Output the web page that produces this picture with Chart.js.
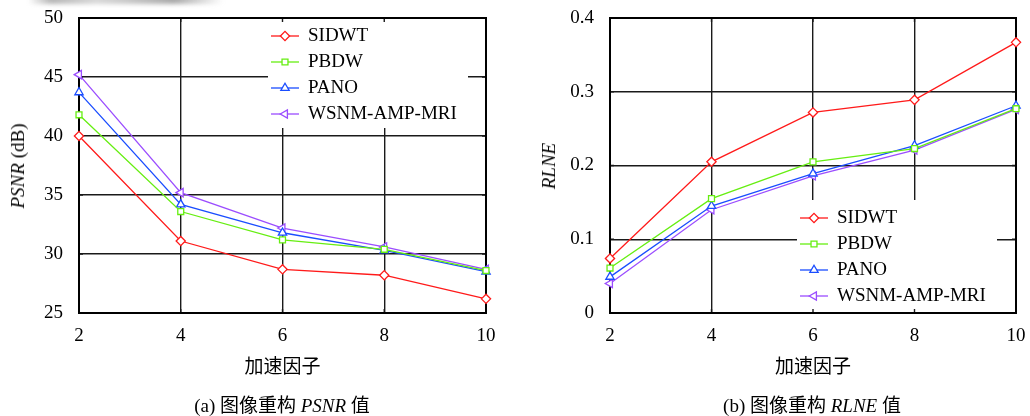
<!DOCTYPE html>
<html>
<head>
<meta charset="utf-8">
<script src="https://cdn.jsdelivr.net/npm/chart.js@4/dist/chart.umd.min.js"></script>
<style>
  body { margin: 0; background: #fff; }
  #wrap { position: relative; width: 1030px; height: 416px; overflow: hidden; background: #fff; }
  canvas { position: absolute; top: 0; }
  .txt { position: absolute; font-family: "Liberation Serif", "Noto Sans CJK SC", serif; font-size: 19px; color: #000; white-space: nowrap; }
  .ytitle { transform: translate(-50%, -50%) rotate(-90deg); }
  .caption { transform: translate(-50%, -50%); }
  .smudge { position: absolute; left: 28px; top: -5px; width: 195px; height: 9px; filter: blur(2px);
            background: linear-gradient(to right, rgba(150,150,150,0), #b5b5b5 12%, #d8d8d8 35%, #c9c9c9 50%, #a8a8a8 75%, rgba(170,170,170,0)); }
</style>
</head>
<body>
<div id="wrap">
  <div class="smudge"></div>
  <canvas id="psnr-chart" width="515" height="416" style="left:0"></canvas>
  <canvas id="rlne-chart" width="515" height="416" style="left:515px"></canvas>
  <div class="txt ytitle" style="left:18px; top:166px"><i>PSNR</i> (dB)</div>
  <div class="txt ytitle" style="left:549px; top:166px"><i>RLNE</i></div>
  <div class="txt caption" style="left:282px; top:403px">(a) 图像重构 <i>PSNR</i> 值</div>
  <div class="txt caption" style="left:812px; top:403px">(b) 图像重构 <i>RLNE</i> 值</div>
</div>
<script>
// acceleration factors on the x axis
var factors = ['2', '4', '6', '8', '10'];
var methods = ['SIDWT', 'PBDW', 'PANO', 'WSNM-AMP-MRI'];

// PSNR (dB)
var psnrSIDWT = [40.0, 31.1, 28.7, 28.2, 26.2];
var psnrPBDW  = [41.8, 33.6, 31.2, 30.4, 28.6];
var psnrPANO  = [43.7, 34.2, 31.8, 30.3, 28.5];
var psnrWSNM  = [45.2, 35.2, 32.2, 30.6, 28.7];

// RLNE
var rlneSIDWT = [0.074, 0.205, 0.272, 0.289, 0.367];
var rlnePBDW  = [0.061, 0.155, 0.205, 0.223, 0.277];
var rlnePANO  = [0.049, 0.145, 0.189, 0.227, 0.281];
var rlneWSNM  = [0.040, 0.140, 0.186, 0.221, 0.276];

var psnrTicks = { min: 25, max: 50, step: 5 };
var rlneTicks = { min: 0, max: 0.4, step: 0.1 };

var styles = [
    { color: '#ff1a1a', pointStyle: 'rectRot', rotation: 0, radius: 4.6 },
    { color: '#66ee11', pointStyle: 'rect', rotation: 0, radius: 4.2 },
    { color: '#1a4dff', pointStyle: 'triangle', rotation: 0, radius: 4.8 },
    { color: '#9b4dff', pointStyle: 'triangle', rotation: -90, radius: 4.8 }
];

Chart.defaults.font.family = '"Liberation Serif", "Noto Sans CJK SC", serif';
Chart.defaults.color = '#000';

function makeDatasets(series) {
    return series.map(function (values, i) {
        var s = styles[i];
        return {
            label: methods[i],
            data: values,
            borderColor: s.color,
            borderWidth: 1.3,
            pointStyle: s.pointStyle,
            pointRotation: s.rotation,
            pointRadius: s.radius,
            pointBorderWidth: 1.3,
            pointBorderColor: s.color,
            pointBackgroundColor: '#fff',
            tension: 0,
            clip: false
        };
    });
}

// white legend box inside the plot, plus the frame and inner tick marks
var boxLegend = {
    id: 'boxLegend',
    beforeDatasetsDraw: function (chart, args, opts) {
        var ctx = chart.ctx, a = chart.chartArea;
        var xs = chart.scales.x, ys = chart.scales.y;
        var b = opts.box;
        ctx.save();
        ctx.fillStyle = '#fff';
        ctx.fillRect(b.left, b.top, b.right - b.left, b.bottom - b.top);

        ctx.strokeStyle = '#1a1a1a';
        ctx.lineWidth = 1.4;
        ctx.beginPath();
        xs.ticks.forEach(function (t, i) {
            var px = xs.getPixelForTick(i);
            ctx.moveTo(px, a.top); ctx.lineTo(px, a.top + 4);
            ctx.moveTo(px, a.bottom); ctx.lineTo(px, a.bottom - 4);
        });
        ys.ticks.forEach(function (t, i) {
            var py = ys.getPixelForTick(i);
            ctx.moveTo(a.left, py); ctx.lineTo(a.left + 4, py);
            ctx.moveTo(a.right, py); ctx.lineTo(a.right - 4, py);
        });
        ctx.stroke();

        ctx.strokeStyle = '#000';
        ctx.lineWidth = 2;
        ctx.strokeRect(a.left, a.top, a.right - a.left, a.bottom - a.top);

        ctx.font = '19px "Liberation Serif"';
        ctx.textBaseline = 'middle';
        chart.data.datasets.forEach(function (ds, i) {
            var yy = b.top + 18 + i * 26;
            ctx.strokeStyle = ds.borderColor;
            ctx.lineWidth = ds.borderWidth;
            ctx.beginPath();
            ctx.moveTo(b.left + 3, yy);
            ctx.lineTo(b.left + 31, yy);
            ctx.stroke();
            ctx.fillStyle = '#fff';
            Chart.helpers.drawPoint(ctx, {
                pointStyle: ds.pointStyle,
                rotation: ds.pointRotation,
                radius: ds.pointRadius,
                borderWidth: ds.pointBorderWidth
            }, b.left + 17, yy);
            ctx.fillStyle = '#000';
            ctx.fillText(ds.label, b.left + 40, yy);
        });
        ctx.restore();
    }
};

function makeChart(id, series, range, axisWidth, padRight, box) {
    var ctx = document.getElementById(id).getContext('2d');
    return new Chart(ctx, {
        type: 'line',
        data: { labels: factors, datasets: makeDatasets(series) },
        plugins: [boxLegend],
        options: {
            responsive: false,
            devicePixelRatio: 1,
            animation: false,
            layout: { padding: { top: 18, right: padRight, left: 0, bottom: 0 } },
            plugins: {
                legend: { display: false },
                tooltip: { enabled: false },
                boxLegend: { box: box }
            },
            scales: {
                x: {
                    type: 'category',
                    offset: false,
                    grid: { color: '#1a1a1a', lineWidth: 1.4, drawTicks: false },
                    border: { color: '#000', width: 2 },
                    ticks: { padding: 12, maxRotation: 0, font: { size: 19 } },
                    title: {
                        display: true,
                        text: '加速因子',
                        font: { size: 19 },
                        padding: { top: 0, bottom: 37 }
                    },
                    afterFit: function (s) {
                        s.height = 103;
                        s.paddingLeft = 0;
                        s.paddingRight = 0;
                    }
                },
                y: {
                    min: range.min,
                    max: range.max,
                    grid: { color: '#1a1a1a', lineWidth: 1.4, drawTicks: false },
                    border: { color: '#000', width: 2 },
                    ticks: { stepSize: range.step, padding: 16, font: { size: 19 } },
                    afterFit: function (s) {
                        s.width = axisWidth;
                        s.paddingTop = 0;
                        s.paddingBottom = 0;
                    }
                }
            }
        }
    });
}

var psnrChart = makeChart('psnr-chart', [psnrSIDWT, psnrPBDW, psnrPANO, psnrWSNM], psnrTicks, 79, 29,
    { left: 268, top: 18, right: 468, bottom: 128 });
var rlneChart = makeChart('rlne-chart', [rlneSIDWT, rlnePBDW, rlnePANO, rlneWSNM], rlneTicks, 95, 14,
    { left: 282, top: 200, right: 482, bottom: 313 });
</script>
</body>
</html>
